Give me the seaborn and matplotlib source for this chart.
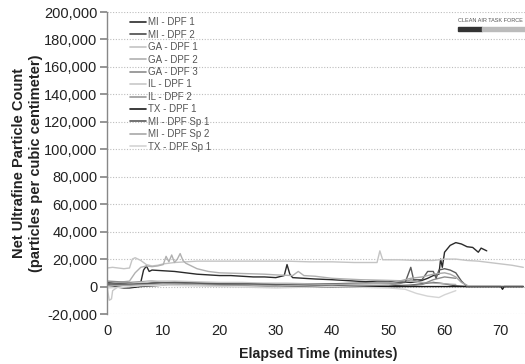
import matplotlib
matplotlib.use("Agg")
import matplotlib.pyplot as plt
import seaborn as sns
import pandas as pd
from matplotlib.patches import Rectangle
from matplotlib.ticker import FuncFormatter

sns.set_theme(style="white")
plt.rcParams['font.family'] = ['Liberation Sans', 'DejaVu Sans']

# ---------------- data ----------------
mi1_t = [0, 2, 4, 6, 6.5, 7, 7.5, 8, 10, 12, 14, 16, 18, 20, 22, 24, 26, 28, 30, 31.5, 32, 32.5, 33,
         35, 37, 40, 42, 44, 46, 48, 50, 52, 54, 55, 56, 57, 58, 59, 59.3, 59.6, 60, 61, 62, 63, 64,
         65, 66, 66.5, 67, 67.5]
mi1_v = [2500, 2000, 1500, 3000, 12000, 15000, 11000, 12000, 11500, 11000, 10000, 9000, 8500, 8000,
         8000, 7500, 7000, 7000, 6500, 8000, 16000, 9000, 6500, 6000, 5500, 5000, 4500, 4000, 3500,
         4000, 4000, 3500, 3000, 3500, 4500, 6000, 8000, 9000, 20000, 14000, 25000, 30000, 32000,
         31000, 29000, 28500, 25000, 28000, 27000, 26000]

mi2_t = [0, 2, 4, 6, 8, 10, 14, 18, 22, 26, 30, 34, 38, 42, 46, 50, 54, 56, 58, 60, 62, 64, 68, 72, 74]
mi2_v = [3000, 2500, 2000, 1500, 2500, 3000, 2500, 2000, 1500, 1500, 1000, 1000, 500, 500, 0, 500,
         1000, 2000, 3000, 2000, 500, 0, 0, 0, 0]

ga1_t = [0, 1, 2, 3, 4, 4.5, 5, 6, 7, 8, 9, 10, 11, 12, 14, 16, 18, 20, 24, 28, 32, 36, 40, 44, 48,
         48.5, 49, 52, 55, 58, 60, 62, 64, 66, 68, 70, 72, 74]
ga1_v = [13500, 14000, 13500, 13000, 13500, 20000, 21000, 19000, 16000, 15000, 15500, 16500, 17000,
         17500, 18000, 18500, 18500, 18500, 18500, 18500, 18500, 18000, 18000, 17500, 17500, 26000,
         19500, 19500, 19000, 19000, 20000, 20000, 19000, 18500, 17500, 16500, 15500, 14000]

ga2_t = [0, 2, 4, 5, 6, 7, 8, 9, 10, 10.5, 11, 11.5, 12, 12.5, 13, 13.5, 14, 15, 16, 17, 18, 19, 20,
         24, 28, 30, 33, 34, 35, 37, 40, 45, 50, 54, 56, 60, 62]
ga2_v = [2000, 3000, 4000, 10000, 14000, 15000, 14500, 15000, 16000, 22000, 18000, 23000, 17500,
         20000, 24000, 19000, 17000, 15000, 13000, 12000, 11000, 10500, 10000, 9500, 9000, 8500,
         8000, 11000, 8000, 7500, 6000, 5000, 4500, 4000, 3000, 2000, 1500]

ga3_t = [0, 2, 4, 6, 8, 10, 12, 14, 16, 20, 24, 28, 32, 36, 40, 44, 48, 52, 56, 58, 60, 62]
ga3_v = [4000, 3500, 3000, 3500, 4000, 3000, 2500, 2500, 2000, 2000, 1500, 1000, 500, 0, 0, -500,
         -500, 0, 1500, 5000, 7000, 6000]

il1_t = [0, 0.4, 0.8, 1, 2, 4, 6, 8, 12, 16, 20, 24, 28, 32, 36, 40, 44, 48, 50]
il1_v = [0, -10000, -9000, -3000, 0, 2000, 3000, 4000, 4000, 3500, 3000, 3000, 2500, 2500, 2000,
         1500, 1500, 1000, 1000]

il2_t = [0, 2, 4, 6, 8, 10, 14, 18, 22, 26, 30, 34, 38, 42, 46, 50, 52, 54, 55]
il2_v = [1000, 1500, 2000, 1500, 1000, 1500, 2000, 1500, 1000, 500, 0, 0, -500, 0, 500, 1000,
         2000, 5000, 4000]

tx1_t = [0, 1, 2, 3, 4, 5, 6, 8, 10, 14, 18, 22, 26, 30, 34, 38, 42, 46, 50, 54, 58, 62, 66, 70,
         70.3, 70.6, 74]
tx1_v = [1000, 500, -500, -1000, -1000, -500, 0, 500, 1000, 1500, 1500, 1500, 1000, 1000, 500, 0,
         0, 0, 0, 0, 0, 0, 0, 0, -2000, 0, 0]

misp1_t = [0, 4, 8, 12, 16, 20, 25, 30, 35, 40, 45, 50, 53, 54, 54.5, 56, 57, 58, 58.5, 59, 60,
           61, 62, 63, 64, 66, 70, 74]
misp1_v = [2000, 1500, 2500, 3000, 2500, 2000, 2000, 1500, 1500, 2000, 2500, 2500, 3000, 14000,
           5000, 5000, 11000, 11000, 6000, 12000, 13000, 12000, 10000, 4000, 0, 0, 0, 0]

misp2_t = [0, 5, 10, 15, 20, 25, 30, 35, 40, 45, 50, 52, 54, 56, 58, 60, 61, 62, 63, 64]
misp2_v = [500, 1000, 1500, 1500, 1000, 1000, 500, 1000, 1500, 2000, 2500, 4000, 6000, 7000,
           9000, 10000, 9000, 7000, 3000, 1000]

txsp1_t = [0, 3, 6, 10, 15, 20, 25, 30, 35, 40, 45, 50, 53, 55, 57, 59, 60, 62]
txsp1_v = [-1000, -500, 500, 1000, 500, 0, -500, -1000, -500, 0, -500, -1000, -2000, -5000, -7000,
           -8000, -6000, -3000]

names = ["MI - DPF 1", "MI - DPF 2", "GA - DPF 1", "GA - DPF 2", "GA - DPF 3", "IL - DPF 1",
         "IL - DPF 2", "TX - DPF 1", "MI - DPF Sp 1", "MI - DPF Sp 2", "TX - DPF Sp 1"]
series_t = [mi1_t, mi2_t, ga1_t, ga2_t, ga3_t, il1_t, il2_t, tx1_t, misp1_t, misp2_t, txsp1_t]
series_v = [mi1_v, mi2_v, ga1_v, ga2_v, ga3_v, il1_v, il2_v, tx1_v, misp1_v, misp2_v, txsp1_v]
colors = ["#2a2a2a", "#4a4a4a", "#c4c4c4", "#b0b0b0", "#8c8c8c", "#c8c8c8", "#9a9a9a",
          "#1a1a1a", "#5a5a5a", "#a8a8a8", "#d4d4d4"]

y_ticks = [-20000, 0, 20000, 40000, 60000, 80000, 100000, 120000, 140000, 160000, 180000, 200000]
x_ticks = [0, 10, 20, 30, 40, 50, 60, 70]

rows = []
for n, ts, vs in zip(names, series_t, series_v):
    for t, v in zip(ts, vs):
        rows.append({"t": t, "v": v, "series": n})
df = pd.DataFrame(rows)

# ---------------- figure ----------------
fig = plt.figure(figsize=(5.25, 3.64), dpi=100)
ax = fig.add_axes([107 / 525, 1 - 314 / 364, 1 - 107 / 525, (314 - 12) / 364])

sns.lineplot(data=df, x="t", y="v", hue="series", hue_order=names,
             palette=dict(zip(names, colors)), sort=False, estimator=None,
             linewidth=1.0, ax=ax)

ax.set_xlim(0, 74.3)
ax.set_ylim(-20000, 200000)
ax.set_yticks(y_ticks)
ax.set_xticks(x_ticks)
ax.yaxis.set_major_formatter(FuncFormatter(lambda v, p: f"{int(v):,}"))
ax.tick_params(axis="y", labelsize=10.5, length=5, color="#888", left=True, pad=2,
               labelcolor="#222")
ax.tick_params(axis="x", labelsize=10.5, length=0, pad=7, labelcolor="#222")

ax.grid(axis="y", linestyle=(0, (1, 1.5)), color="#bdbdbd", linewidth=0.8)
ax.grid(axis="x", visible=False)
for s in ["top", "right", "bottom"]:
    ax.spines[s].set_visible(False)
ax.spines["left"].set_color("#888888")
ax.spines["left"].set_linewidth(1.0)

ax.set_xlabel("Elapsed Time (minutes)", fontsize=10.2, fontweight="bold", color="#222")
ax.xaxis.set_label_coords(0.505, -0.11)
ax.set_ylabel("Net Ultrafine Particle Count\n(particles per cubic centimeter)",
              fontsize=10.5, fontweight="bold", labelpad=1, color="#222")

leg = ax.legend(loc="upper left", bbox_to_anchor=(0.043, 1.0), frameon=False, fontsize=7,
                handlelength=1.6, handletextpad=0.2, labelspacing=0.25, borderaxespad=0.15)
for line in leg.get_lines():
    line.set_linewidth(1.2)
for txt in leg.get_texts():
    txt.set_color("#555555")

# logo
fig.text(458 / 525, 1 - 21 / 364, "CLEAN AIR TASK FORCE", fontsize=4, color="#555555",
         va="center", ha="left")
fig.patches.append(Rectangle((458 / 525, 1 - 31 / 364), 24 / 525, 4 / 364,
                             transform=fig.transFigure, color="#333333"))
fig.patches.append(Rectangle((482 / 525, 1 - 31 / 364), 43 / 525, 4 / 364,
                             transform=fig.transFigure, color="#bbbbbb"))

fig.savefig("out.png", dpi=100)
